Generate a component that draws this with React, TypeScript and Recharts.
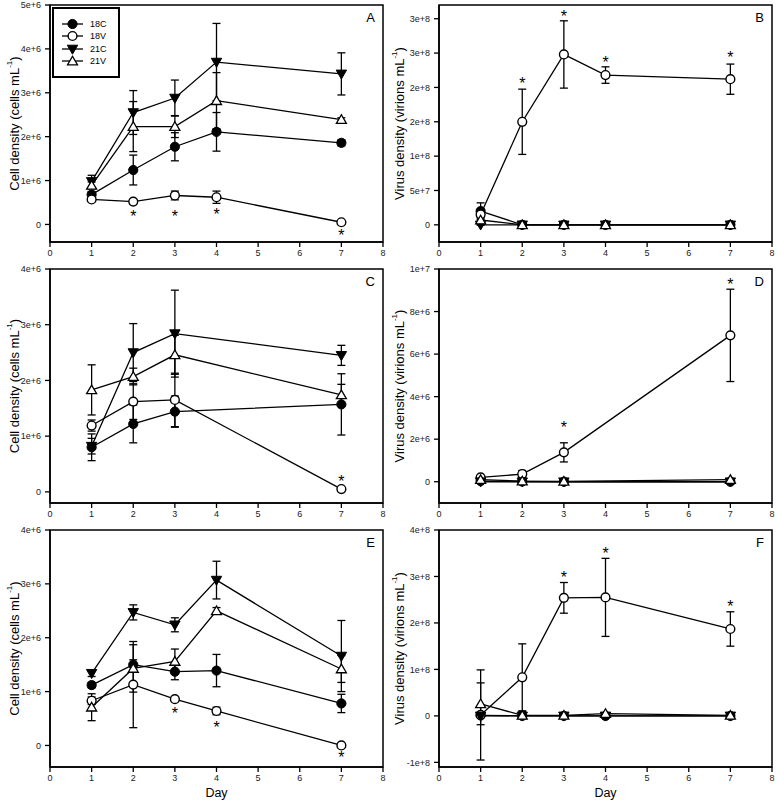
import React from 'react';
import { ComposedChart, Line, XAxis, YAxis, ErrorBar, ReferenceArea } from 'recharts';

const FONT = '"Liberation Sans", Arial, Helvetica, sans-serif';

const daysAll = [1, 2, 3, 4, 7];
const daysCD = [1, 2, 3, 7];
const xTicks = [0, 1, 2, 3, 4, 5, 6, 7, 8];
const seriesNames = ['18C', '18V', '21C', '21V'];

// Panel A (cells mL-1)
const A_18C = [0.68e6, 1.24e6, 1.77e6, 2.11e6, 1.86e6];
const A_18C_err = [0.07e6, 0.34e6, 0.32e6, 0.44e6, 0.07e6];
const A_18V = [0.57e6, 0.52e6, 0.66e6, 0.62e6, 0.05e6];
const A_18V_err = [0.04e6, 0.05e6, 0.1e6, 0.14e6, 0.02e6];
const A_21C = [0.98e6, 2.55e6, 2.88e6, 3.7e6, 3.43e6];
const A_21C_err = [0.14e6, 0.5e6, 0.41e6, 0.88e6, 0.48e6];
const A_21V = [0.89e6, 2.23e6, 2.23e6, 2.82e6, 2.39e6];
const A_21V_err = [0.08e6, 0.57e6, 0.25e6, 0.64e6, 0.04e6];
const A_stars = [null, 0.27e6, 0.27e6, 0.32e6, -0.17e6];
const A_ticks = [0, 1e6, 2e6, 3e6, 4e6, 5e6];

// Panel B (virions mL-1)
const B_18C = [2.0e7, 0, 0, 0, 0];
const B_18C_err = [1.2e7, 0.5e6, 0.5e6, 0.5e6, 0.5e6];
const B_18V = [1.5e7, 1.5e8, 2.48e8, 2.18e8, 2.12e8];
const B_18V_err = [0.3e7, 0.475e8, 0.49e8, 0.12e8, 0.22e8];
const B_21C = [0, 0, 0, 0, 0];
const B_21C_err = [0.5e6, 0.5e6, 0.5e6, 0.5e6, 0.5e6];
const B_21V = [0.7e7, 0, 0, 0, 0];
const B_21V_err = [0.3e7, 0.5e6, 0.5e6, 0.5e6, 0.5e6];
const B_stars = [null, 2.11e8, 3.09e8, 2.42e8, 2.49e8];
const B_ticks = [0, 5e7, 1e8, 1.5e8, 2e8, 2.5e8, 3e8];

// Panel C (cells mL-1)
const C_18C = [0.8e6, 1.22e6, 1.44e6, 1.57e6];
const C_18C_err = [0.24e6, 0.34e6, 0.28e6, 0.55e6];
const C_18V = [1.19e6, 1.62e6, 1.65e6, 0.05e6];
const C_18V_err = [0.1e6, 0.32e6, 0.48e6, 0.02e6];
const C_21C = [0.82e6, 2.5e6, 2.84e6, 2.45e6];
const C_21C_err = [0.14e6, 0.52e6, 0.78e6, 0.18e6];
const C_21V = [1.83e6, 2.07e6, 2.46e6, 1.74e6];
const C_21V_err = [0.45e6, 0.15e6, 0.35e6, 0.19e6];
const C_stars = [null, null, null, 0.26e6];
const C_ticks = [0, 1e6, 2e6, 3e6, 4e6];

// Panel D (virions mL-1)
const D_18C = [0.03e6, 0.01e6, 0, 0];
const D_18C_err = [0.02e6, 0.01e6, 0.01e6, 0.01e6];
const D_18V = [0.2e6, 0.36e6, 1.38e6, 6.88e6];
const D_18V_err = [0.05e6, 0.17e6, 0.45e6, 2.17e6];
const D_21C = [0, 0, 0, 0];
const D_21C_err = [0.01e6, 0.01e6, 0.01e6, 0.01e6];
const D_21V = [0.1e6, 0.03e6, 0.02e6, 0.1e6];
const D_21V_err = [0.03e6, 0.02e6, 0.01e6, 0.05e6];
const D_stars = [null, null, 2.73e6, 9.45e6];
const D_ticks = [0, 2e6, 4e6, 6e6, 8e6, 1e7];

// Panel E (cells mL-1)
const E_18C = [1.12e6, 1.5e6, 1.37e6, 1.39e6, 0.78e6];
const E_18C_err = [0.05e6, 0.09e6, 0.15e6, 0.3e6, 0.17e6];
const E_18V = [0.83e6, 1.13e6, 0.86e6, 0.64e6, 0.0];
const E_18V_err = [0.07e6, 0.8e6, 0.03e6, 0.07e6, 0.01e6];
const E_21C = [1.34e6, 2.47e6, 2.24e6, 3.07e6, 1.66e6];
const E_21C_err = [0.06e6, 0.14e6, 0.13e6, 0.35e6, 0.66e6];
const E_21V = [0.71e6, 1.43e6, 1.56e6, 2.5e6, 1.42e6];
const E_21V_err = [0.25e6, 0.44e6, 0.23e6, 0.06e6, 0.25e6];
const E_stars = [null, null, 0.67e6, 0.41e6, -0.15e6];
const E_ticks = [0, 1e6, 2e6, 3e6, 4e6];

// Panel F (virions mL-1)
const F_18C = [0.01e8, 0, 0, 0, 0];
const F_18C_err = [0.01e8, 0.005e8, 0.005e8, 0.005e8, 0.005e8];
const F_18V = [0.02e8, 0.83e8, 2.54e8, 2.55e8, 1.87e8];
const F_18V_err = [0.97e8, 0.72e8, 0.33e8, 0.84e8, 0.37e8];
const F_21C = [0, 0, 0, 0, 0];
const F_21C_err = [0.005e8, 0.005e8, 0.005e8, 0.005e8, 0.005e8];
const F_21V = [0.26e8, 0.01e8, 0.01e8, 0.05e8, 0.01e8];
const F_21V_err = [0.45e8, 0.08e8, 0.02e8, 0.02e8, 0.01e8];
const F_stars = [null, null, 3.07e8, 3.58e8, 2.44e8];
const F_ticks = [-1e8, 0, 1e8, 2e8, 3e8, 4e8];

type S = { v: number[]; e: number[] };

function buildRows(days: number[], s: S[], stars: (number | null)[]) {
  return days.map((d, i) => {
    const row: any = { day: d, star: stars[i] };
    s.forEach((ser, k) => {
      row[`s${k}`] = ser.v[i];
      row[`s${k}e`] = ser.e[i];
    });
    return row;
  });
}

const fmt = (v: number) => (v === 0 ? '0' : v.toExponential(0));

function Marker({ kind, cx, cy }: { kind: number; cx: number; cy: number }) {
  if (kind === 0) return <circle cx={cx} cy={cy} r={4.6} fill="#000" stroke="#000" strokeWidth={1} />;
  if (kind === 1) return <circle cx={cx} cy={cy} r={4.4} fill="#fff" stroke="#000" strokeWidth={1.4} />;
  if (kind === 2)
    return (
      <polygon
        points={`${cx - 5.2},${cy - 3.8} ${cx + 5.2},${cy - 3.8} ${cx},${cy + 5.2}`}
        fill="#000"
        stroke="#000"
        strokeWidth={1}
      />
    );
  return (
    <polygon
      points={`${cx - 5},${cy + 3.8} ${cx + 5},${cy + 3.8} ${cx},${cy - 4.8}`}
      fill="#fff"
      stroke="#000"
      strokeWidth={1.3}
    />
  );
}

const makeDot = (kind: number) => (p: any) => {
  const { cx, cy, index } = p;
  if (cx == null || cy == null || isNaN(cy)) return <g key={`d${kind}-${index}`} />;
  return (
    <g key={`d${kind}-${index}`}>
      <Marker kind={kind} cx={cx} cy={cy} />
    </g>
  );
};

const starDot = (p: any) => {
  const { cx, cy, value, index } = p;
  if (value == null || cy == null || isNaN(cy)) return <g key={`st-${index}`} />;
  return (
    <text key={`st-${index}`} x={cx} y={cy + 9.3} textAnchor="middle" fontSize={16} fill="#000" fontFamily={FONT}>
      *
    </text>
  );
};

const dots = [makeDot(0), makeDot(1), makeDot(2), makeDot(3)];

type PanelProps = {
  left: number;
  top: number;
  width: number;
  height: number;
  yw: number;
  mt: number;
  mr: number;
  xh: number;
  rows: any[];
  domain: [number, number];
  ticks: number[];
  letter: string;
  title: string;
  day?: boolean;
};

function Panel(props: PanelProps) {
  const { left, top, width, height, yw, mt, mr, xh, rows, domain, ticks, letter, title, day } = props;
  const yLabel = (lp: any) => {
    const vb = lp.viewBox || {};
    const x = (vb.x || 0) + 14;
    const y = (vb.y || 0) + (vb.height || 0) / 2;
    return (
      <text
        x={x}
        y={y}
        transform={`rotate(-90, ${x}, ${y})`}
        textAnchor="middle"
        dominantBaseline="central"
        fontSize={13}
        fill="#000"
        fontFamily={FONT}
      >
        {title}
        <tspan dy={-5} fontSize={8}>
          -1
        </tspan>
        <tspan dy={5}>)</tspan>
      </text>
    );
  };
  const xLabel = (lp: any) => {
    const vb = lp.viewBox || {};
    const x = (vb.x || 0) + (vb.width || 0) / 2;
    const y = (vb.y || 0) + 29.5;
    return (
      <text x={x} y={y} textAnchor="middle" fontSize={12.5} fill="#000" fontFamily={FONT}>
        Day
      </text>
    );
  };
  return (
    <div style={{ position: 'absolute', left, top }}>
      <ComposedChart width={width} height={height} data={rows} margin={{ top: mt, right: mr, bottom: 0, left: 0 }}>
        <XAxis
          dataKey="day"
          type="number"
          domain={[0, 8]}
          ticks={xTicks}
          interval={0}
          allowDataOverflow
          height={xh}
          tickSize={5}
          tickMargin={3}
          axisLine={{ stroke: '#000', strokeWidth: 1.5 }}
          tickLine={{ stroke: '#000', strokeWidth: 1.3 }}
          tick={{ fontSize: 9, fill: '#222', fontFamily: FONT }}
          label={day ? xLabel : undefined}
        />
        <YAxis
          type="number"
          domain={domain}
          ticks={ticks}
          interval={0}
          allowDataOverflow
          width={yw}
          tickSize={5}
          tickMargin={4}
          tickFormatter={fmt}
          axisLine={{ stroke: '#000', strokeWidth: 1.5 }}
          tickLine={{ stroke: '#000', strokeWidth: 1.3 }}
          tick={{ fontSize: 9, fill: '#222', fontFamily: FONT }}
          label={yLabel}
        />
        <ReferenceArea
          x1={0}
          x2={8}
          y1={domain[0]}
          y2={domain[1]}
          fill="none"
          fillOpacity={0}
          stroke="#000"
          strokeWidth={1.5}
          ifOverflow="visible"
          label={{ value: letter, position: 'insideTopRight', offset: 8, fontSize: 13, fill: '#000', fontFamily: FONT }}
        />
        {[0, 1, 2, 3].map((k) => (
          <Line
            key={seriesNames[k]}
            name={seriesNames[k]}
            dataKey={`s${k}`}
            stroke="#000"
            strokeWidth={1.3}
            dot={dots[k]}
            activeDot={false}
            isAnimationActive={false}
            legendType="none"
          >
            <ErrorBar dataKey={`s${k}e`} width={4} stroke="#000" strokeWidth={1.3} direction="y" isAnimationActive={false} />
          </Line>
        ))}
        <Line
          dataKey="star"
          stroke="none"
          dot={starDot}
          activeDot={false}
          isAnimationActive={false}
          legendType="none"
        />
      </ComposedChart>
    </div>
  );
}

function LegendBox() {
  const ys = [17, 29, 42, 54];
  return (
    <svg
      width={68}
      height={71}
      style={{ position: 'absolute', left: 52, top: 7 }}
      fontFamily={FONT}
    >
      <rect x={1} y={1} width={66} height={69} fill="#fff" stroke="#000" strokeWidth={2} />
      {seriesNames.map((n, k) => (
        <g key={n}>
          <line x1={10} x2={31} y1={ys[k]} y2={ys[k]} stroke="#000" strokeWidth={1.3} />
          <Marker kind={k} cx={20.5} cy={ys[k]} />
          <text x={38} y={ys[k] + 3.3} fontSize={9} fill="#000">
            {n}
          </text>
        </g>
      ))}
    </svg>
  );
}

const rowsA = buildRows(daysAll, [
  { v: A_18C, e: A_18C_err },
  { v: A_18V, e: A_18V_err },
  { v: A_21C, e: A_21C_err },
  { v: A_21V, e: A_21V_err },
], A_stars);
const rowsB = buildRows(daysAll, [
  { v: B_18C, e: B_18C_err },
  { v: B_18V, e: B_18V_err },
  { v: B_21C, e: B_21C_err },
  { v: B_21V, e: B_21V_err },
], B_stars);
const rowsC = buildRows(daysCD, [
  { v: C_18C, e: C_18C_err },
  { v: C_18V, e: C_18V_err },
  { v: C_21C, e: C_21C_err },
  { v: C_21V, e: C_21V_err },
], C_stars);
const rowsD = buildRows(daysCD, [
  { v: D_18C, e: D_18C_err },
  { v: D_18V, e: D_18V_err },
  { v: D_21C, e: D_21C_err },
  { v: D_21V, e: D_21V_err },
], D_stars);
const rowsE = buildRows(daysAll, [
  { v: E_18C, e: E_18C_err },
  { v: E_18V, e: E_18V_err },
  { v: E_21C, e: E_21C_err },
  { v: E_21V, e: E_21V_err },
], E_stars);
const rowsF = buildRows(daysAll, [
  { v: F_18C, e: F_18C_err },
  { v: F_18V, e: F_18V_err },
  { v: F_21C, e: F_21C_err },
  { v: F_21V, e: F_21V_err },
], F_stars);

const CELL = 'Cell density (cells mL';
const VIRUS = 'Virus density (virions mL';

export default function App() {
  const L = { left: 0, width: 388, yw: 50, mr: 5 };
  const R = { left: 385, width: 391, yw: 54, mr: 4 };
  return (
    <div
      style={{
        position: 'absolute',
        left: 0,
        top: 0,
        width: 777,
        height: 802,
        background: '#fff',
        fontFamily: FONT,
        overflow: 'hidden',
      }}
    >
      <Panel {...L} top={0} height={264} mt={5} xh={22} rows={rowsA} domain={[-4e5, 5e6]} ticks={A_ticks} letter="A" title={CELL} />
      <Panel {...R} top={0} height={264} mt={5} xh={22} rows={rowsB} domain={[-2.5e7, 3.2e8]} ticks={B_ticks} letter="B" title={VIRUS} />
      <Panel {...L} top={264} height={261} mt={5} xh={22} rows={rowsC} domain={[-2e5, 4e6]} ticks={C_ticks} letter="C" title={CELL} />
      <Panel {...R} top={264} height={261} mt={5} xh={22} rows={rowsD} domain={[-1e6, 1e7]} ticks={D_ticks} letter="D" title={VIRUS} />
      <Panel {...L} top={525} height={277} mt={5} xh={35} rows={rowsE} domain={[-4e5, 4e6]} ticks={E_ticks} letter="E" title={CELL} day />
      <Panel {...R} top={525} height={277} mt={5} xh={35} rows={rowsF} domain={[-1.1e8, 4e8]} ticks={F_ticks} letter="F" title={VIRUS} day />
      <LegendBox />
    </div>
  );
}
